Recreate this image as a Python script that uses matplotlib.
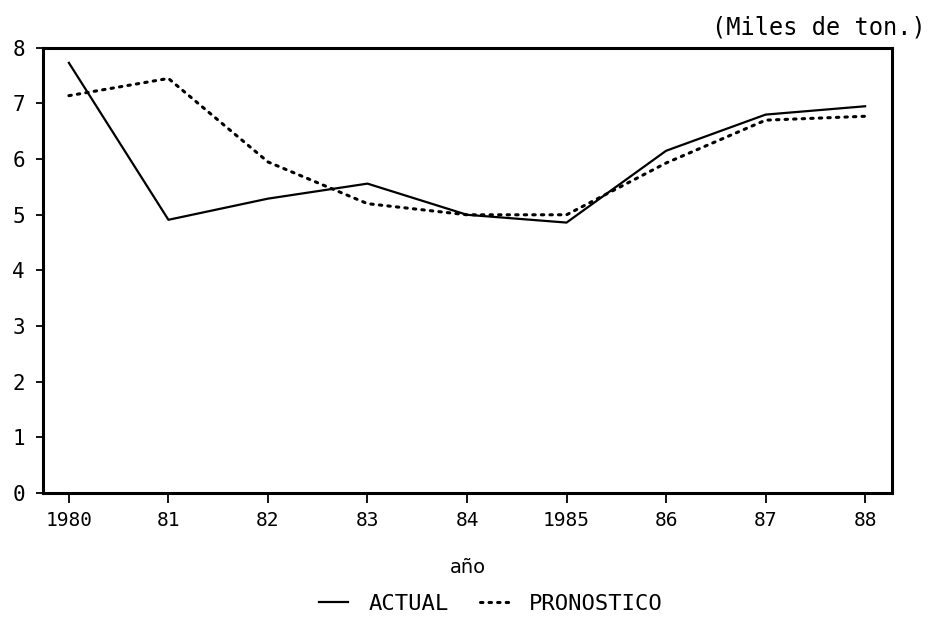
#!/usr/bin/env python3
"""Actual vs forecast (thousand tons), 1980-1988."""

import matplotlib

matplotlib.use("Agg")
import matplotlib.pyplot as plt

years = [1980, 1981, 1982, 1983, 1984, 1985, 1986, 1987, 1988]
year_labels = ["1980", "81", "82", "83", "84", "1985", "86", "87", "88"]
actual = [7.73, 4.91, 5.29, 5.56, 5.0, 4.86, 6.15, 6.8, 6.95]
pronostico = [7.14, 7.45, 5.95, 5.2, 5.0, 5.0, 5.93, 6.7, 6.77]
y_ticks = [0, 1, 2, 3, 4, 5, 6, 7, 8]

MONO = "DejaVu Sans Mono"

fig = plt.figure(figsize=(9.35, 6.21), dpi=100)
ax = fig.add_axes([0.046, 0.206, 0.908, 0.717])

ax.plot(years, actual, color="black", lw=1.6, label="ACTUAL")
ax.plot(years, pronostico, color="black", lw=2.2, linestyle=(0, (0.8, 2.0)),
        dash_capstyle="round", label="PRONOSTICO")

ax.set_xlim(1979.74, 1988.27)
ax.set_ylim(0, 8)
ax.set_xticks(years)
ax.set_xticklabels(year_labels, fontsize=14, family=MONO)
ax.set_yticks(y_ticks)
ax.set_yticklabels([str(v) for v in y_ticks], fontsize=15, family=MONO)
ax.tick_params(axis="x", direction="out", length=7, width=1.3, pad=6)
ax.tick_params(axis="y", direction="out", length=5, width=1.3, pad=8)
for spine in ax.spines.values():
    spine.set_linewidth(2.2)

ax.set_xlabel("año", fontsize=14, labelpad=20)

fig.text(0.99, 0.955, "(Miles de ton.)", ha="right", va="center",
         fontsize=17, family=MONO)

fig.legend(loc="center", bbox_to_anchor=(0.525, 0.027), ncol=2, frameon=False,
           handlelength=1.3, handletextpad=0.9, columnspacing=1.4,
           prop={"family": MONO, "size": 16})

fig.savefig("out.png", dpi=100)
